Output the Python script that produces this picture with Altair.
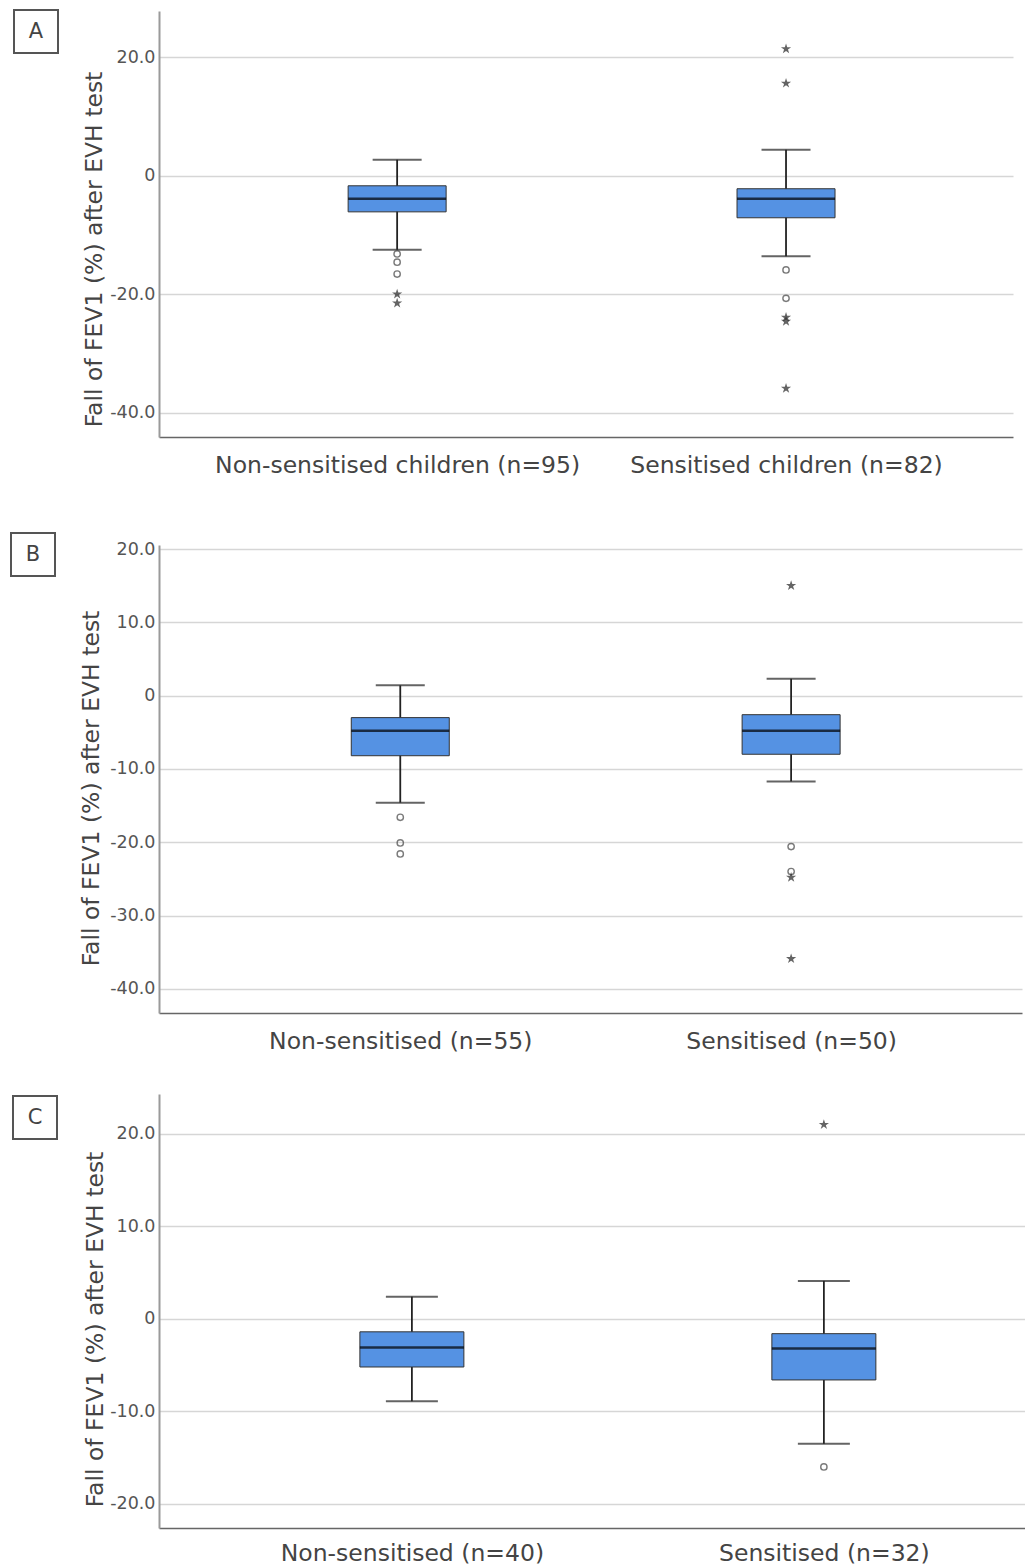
import altair as alt
import pandas as pd

FONT = "DejaVu Sans"
BLUE = "#5592e3"
STAR = ("M0,-1 L0.2245,-0.309 L0.951,-0.309 L0.363,0.118 L0.588,0.809 "
        "L0,0.382 L-0.588,0.809 L-0.363,0.118 L-0.951,-0.309 L-0.2245,-0.309 Z")
Y_TITLE = "Fall of FEV1 (%) after EVH test"

# ---- Panel A ----
groups_A = ["Non-sensitised children (n=95)", "Sensitised children (n=82)"]
lo_A = [-12.5, -13.6]
q1_A = [-6.1, -7.1]
med_A = [-3.9, -3.9]
q3_A = [-1.7, -2.2]
hi_A = [2.7, 4.4]
circ_grp_A = [0, 0, 0, 1, 1]
circ_val_A = [-13.2, -14.6, -16.6, -15.9, -20.7]
star_grp_A = [0, 0, 1, 1, 1, 1, 1]
star_val_A = [-20.0, -21.5, 21.4, 15.6, -23.9, -24.6, -35.9]
ticks_A = [-40, -20, 0, 20]

# ---- Panel B ----
groups_B = ["Non-sensitised (n=55)", "Sensitised (n=50)"]
lo_B = [-14.6, -11.7]
q1_B = [-8.2, -8.0]
med_B = [-4.8, -4.8]
q3_B = [-3.0, -2.6]
hi_B = [1.4, 2.3]
circ_grp_B = [0, 0, 0, 1, 1]
circ_val_B = [-16.6, -20.1, -21.6, -20.6, -24.0]
star_grp_B = [1, 1, 1]
star_val_B = [15.0, -24.8, -35.9]
ticks_B = [-40, -30, -20, -10, 0, 10, 20]

# ---- Panel C ----
groups_C = ["Non-sensitised (n=40)", "Sensitised (n=32)"]
lo_C = [-8.9, -13.5]
q1_C = [-5.2, -6.6]
med_C = [-3.1, -3.2]
q3_C = [-1.4, -1.6]
hi_C = [2.4, 4.1]
circ_grp_C = [1]
circ_val_C = [-16.0]
star_grp_C = [1]
star_val_C = [21.0]
ticks_C = [-20, -10, 0, 10, 20]

LABEL_EXPR = ("datum.value == 0 ? '0' : (datum.value < 0 ? '-' + "
              "format(-datum.value, '.1f') : format(datum.value, '.1f'))")


def panel(letter, groups, lo, q1, med, q3, hi, cg, cv, sg, sv, ticks, domain,
          width, height, pad, align, box, letter_xy, title_x, title_y, box_w,
          cap_w, label_pad=16, spacer=None):
    stats = pd.DataFrame({"g": groups, "lo": lo, "q1": q1, "med": med,
                          "q3": q3, "hi": hi})
    circ = pd.DataFrame({"g": [groups[i] for i in cg], "v": cv})
    star = pd.DataFrame({"g": [groups[i] for i in sg], "v": sv})
    lab = pd.DataFrame({"letter": [letter]})

    xs = alt.Scale(type="point", padding=pad, align=align)
    xax = alt.Axis(title=None, labelAngle=0, labelFontSize=23.5,
                   labelColor="#444", labelPadding=label_pad, ticks=False,
                   tickSize=0, grid=False, domainColor="#666",
                   domainWidth=1.5, labelFont=FONT, labelLimit=0)
    X = alt.X("g:N", sort=groups, scale=xs, axis=xax)
    ys = alt.Scale(domain=domain, nice=False, zero=False)
    yax = alt.Axis(title=Y_TITLE, values=ticks, labelExpr=LABEL_EXPR,
                   labelFontSize=17.5, labelColor="#555", labelPadding=4,
                   ticks=False, tickSize=0, grid=True, gridColor="#d6d6d6",
                   gridWidth=1.5, domainColor="#9a9a9a", domainWidth=2,
                   titleFontSize=23.5, titleFontWeight="normal",
                   titleColor="#444", titleX=title_x, titleY=title_y,
                   titleBaseline="alphabetic", titleAngle=-90,
                   titleAlign="center", labelFont=FONT, titleFont=FONT)

    def Y(field):
        return alt.Y(field, scale=ys, axis=yax)

    base = alt.Chart(stats)
    whisk = base.mark_rule(color="#222", strokeWidth=1.8).encode(
        x=X, y=Y("lo:Q"), y2="hi:Q")
    bar = base.mark_bar(size=box_w, color=BLUE, stroke="#333",
                        strokeWidth=1).encode(x=X, y=Y("q1:Q"), y2="q3:Q")
    medl = base.mark_tick(size=box_w, thickness=2.6, color="#000").encode(
        x=X, y=Y("med:Q"))
    cap_lo = base.mark_tick(size=cap_w, thickness=2, color="#222").encode(
        x=X, y=Y("lo:Q"))
    cap_hi = base.mark_tick(size=cap_w, thickness=2, color="#222").encode(
        x=X, y=Y("hi:Q"))
    circles = alt.Chart(circ).mark_point(shape="circle", filled=False,
                                         size=40, color="#444",
                                         strokeWidth=1.4).encode(
        x=X, y=Y("v:Q"))
    stars = alt.Chart(star).mark_point(shape=STAR, filled=True, size=115,
                                       color="#222", strokeWidth=0).encode(
        x=X, y=Y("v:Q"))
    x0, x1, y0, y1 = box
    rect = alt.Chart(lab).mark_rect(fill="white", stroke="#555",
                                    strokeWidth=2).encode(
        x=alt.value(x0), x2=alt.value(x1), y=alt.value(y0), y2=alt.value(y1))
    txt = alt.Chart(lab).mark_text(fontSize=21, color="#444", font=FONT,
                                   align="center", baseline="middle").encode(
        x=alt.value(letter_xy[0]), y=alt.value(letter_xy[1]), text="letter:N")
    layers = [whisk, bar, medl, cap_lo, cap_hi, circles, stars, rect, txt]
    if spacer is not None:
        sp = alt.Chart(lab).mark_rule(opacity=0).encode(
            x=alt.value(-100), y=alt.value(spacer), y2=alt.value(0))
        layers.append(sp)
    return alt.layer(*layers).properties(width=width, height=height)


pA = panel("A", groups_A, lo_A, q1_A, med_A, q3_A, hi_A, circ_grp_A,
           circ_val_A, star_grp_A, star_val_A, ticks_A, [-44.1, 27.8],
           854, 426, 0.598, 0.512, (-145, -101, -1, 42), (-123, 21), -58,
           238, 98, 49)
pB = panel("B", groups_B, lo_B, q1_B, med_B, q3_B, hi_B, circ_grp_B,
           circ_val_B, star_grp_B, star_val_B, ticks_B, [-43.3, 20.55],
           863, 468, 0.604, 0.511, (-148, -104, -12, 31), (-126, 10), -61,
           243, 98, 49, spacer=-27)
pC = panel("C", groups_C, lo_C, q1_C, med_C, q3_C, hi_C, circ_grp_C,
           circ_val_C, star_grp_C, star_val_C, ticks_C, [-22.6, 24.3],
           866, 434, 0.551, 0.557, (-146, -102, 2, 45), (-124, 24), -57,
           235, 104, 52, label_pad=13)

chart = alt.vconcat(pA, pB, pC, spacing=41).properties(
    padding={"left": 2, "top": 1, "right": 0, "bottom": 0}
).configure_view(stroke=None)

chart.save("out.html", embed_options={"renderer": "svg", "actions": False})
